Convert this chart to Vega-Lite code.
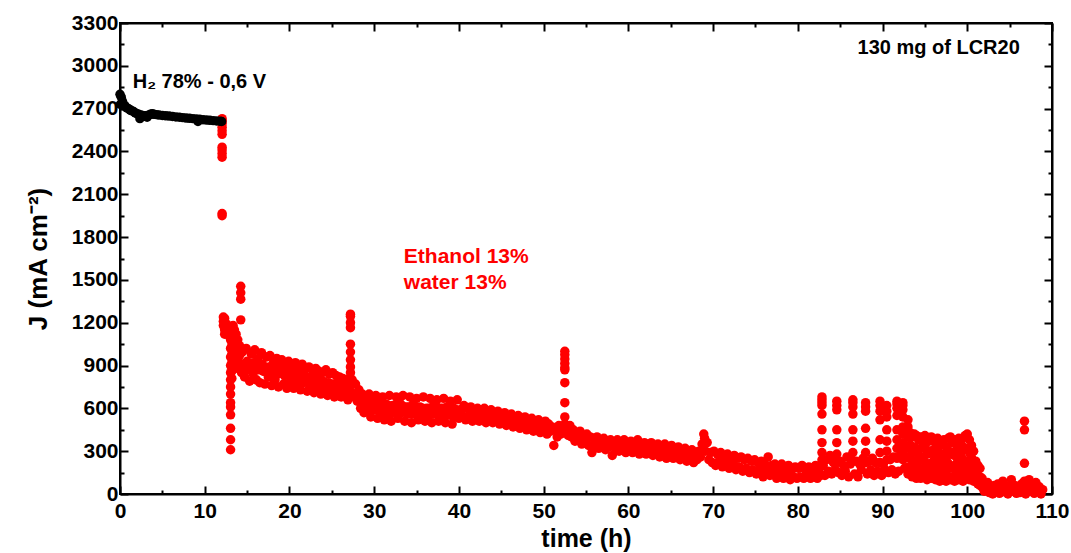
{
  "$schema": "https://vega.github.io/schema/vega-lite/v6.json",
  "autosize": {"type": "none"},
  "width": 932,
  "height": 471,
  "padding": {"left": 120, "top": 23, "right": 19, "bottom": 59},
  "background": "white",
  "config": {
    "view": {"stroke": "black", "strokeWidth": 2},
    "font": "Liberation Sans"
  },
  "datasets": {
    "h2": [
      {"t":0,"J":2800},{"t":0.05,"J":2730},{"t":0.15,"J":2780},{"t":0.3,"J":2750},{"t":0.4,"J":2720},{"t":0.6,"J":2720},{"t":0.8,"J":2705},{"t":1.0,"J":2700},{"t":1.2,"J":2690},{"t":1.4,"J":2685},{"t":1.6,"J":2680},{"t":1.8,"J":2670},{"t":2.0,"J":2665},{"t":2.2,"J":2660},{"t":2.35,"J":2630},{"t":2.5,"J":2655},{"t":2.8,"J":2650},{"t":3.0,"J":2650},{"t":3.2,"J":2640},{"t":3.4,"J":2655},{"t":3.6,"J":2660},{"t":3.8,"J":2665},{"t":4.0,"J":2660},{"t":4.3,"J":2658},{"t":4.6,"J":2655},{"t":5.0,"J":2652},{"t":5.4,"J":2650},{"t":5.8,"J":2648},{"t":6.2,"J":2645},{"t":6.6,"J":2642},{"t":7.0,"J":2640},{"t":7.4,"J":2637},{"t":7.8,"J":2634},{"t":8.2,"J":2632},{"t":8.6,"J":2630},{"t":9.0,"J":2627},{"t":9.2,"J":2610},{"t":9.4,"J":2625},{"t":9.8,"J":2622},{"t":10.2,"J":2620},{"t":10.6,"J":2618},{"t":11.0,"J":2616},{"t":11.4,"J":2614},{"t":11.8,"J":2612},{"t":12.0,"J":2610}
    ],
    "eth": [
      {"t":12.05,"J":2630},{"t":12.05,"J":2615},{"t":12.05,"J":2595},{"t":12.05,"J":2570},{"t":12.05,"J":2545},{"t":12.05,"J":2520},{"t":12.05,"J":2430},{"t":12.05,"J":2410},{"t":12.05,"J":2385},{"t":12.05,"J":2360},{"t":12.05,"J":1965},{"t":12.05,"J":1950},
      {"t":12.2,"J":1240},{"t":12.2,"J":1210},{"t":12.2,"J":1180},{"t":12.35,"J":1150},{"t":12.35,"J":1120},{"t":12.35,"J":1230},{"t":12.6,"J":1190},{"t":12.6,"J":1140},{"t":12.85,"J":1170},{"t":12.85,"J":1110},
      {"t":13.05,"J":1080},{"t":13.05,"J":1020},{"t":13.05,"J":960},{"t":13.05,"J":900},{"t":13.05,"J":850},{"t":13.05,"J":800},{"t":13.05,"J":750},{"t":13.05,"J":700},{"t":13.05,"J":640},{"t":13.05,"J":610},{"t":13.05,"J":555},{"t":13.05,"J":460},{"t":13.05,"J":380},{"t":13.05,"J":310},
      {"t":13.2,"J":1100},{"t":13.2,"J":1040},{"t":13.2,"J":980},{"t":13.2,"J":920},{"t":13.2,"J":860},{"t":13.2,"J":810},
      {"t":13.35,"J":1180},{"t":13.35,"J":1120},{"t":13.35,"J":1060},{"t":13.35,"J":1000},{"t":13.35,"J":940},
      {"t":13.5,"J":1150},{"t":13.5,"J":1090},{"t":13.5,"J":1020},{"t":13.5,"J":950},
      {"t":13.7,"J":1120},{"t":13.7,"J":1050},{"t":13.7,"J":980},{"t":13.7,"J":910},
      {"t":13.9,"J":1080},{"t":13.9,"J":1010},{"t":13.9,"J":940},{"t":13.9,"J":880},
      {"t":14.1,"J":1040},{"t":14.1,"J":970},{"t":14.1,"J":900},
      {"t":14.25,"J":1455},{"t":14.25,"J":1410},{"t":14.25,"J":1365},{"t":14.25,"J":1220},
      {"t":14.35,"J":990},{"t":14.35,"J":910},{"t":14.35,"J":850},
      {"t":14.5,"J":1000},{"t":14.7,"J":820},{"t":14.9,"J":1020},{"t":15.1,"J":880},{"t":15.3,"J":790},{"t":15.5,"J":980},{"t":15.7,"J":840},{"t":15.9,"J":1010},{"t":16.1,"J":800},{"t":16.3,"J":950},{"t":16.5,"J":780},{"t":16.7,"J":990},{"t":16.9,"J":860},{"t":17.1,"J":770},{"t":17.3,"J":960},{"t":17.5,"J":820},{"t":17.7,"J":970},{"t":17.9,"J":760},{"t":18.1,"J":920},{"t":18.3,"J":800},{"t":18.5,"J":950},{"t":18.7,"J":750},{"t":18.9,"J":900},{"t":19.1,"J":940},{"t":19.3,"J":770},{"t":19.5,"J":910},{"t":19.7,"J":740},{"t":19.9,"J":930},
      {"t":20.1,"J":790},{"t":20.3,"J":900},{"t":20.5,"J":740},{"t":20.7,"J":920},{"t":20.9,"J":770},{"t":21.1,"J":890},{"t":21.3,"J":730},{"t":21.5,"J":910},{"t":21.7,"J":780},{"t":21.9,"J":880},{"t":22.1,"J":720},{"t":22.3,"J":890},{"t":22.5,"J":750},{"t":22.7,"J":870},{"t":22.9,"J":710},{"t":23.1,"J":880},{"t":23.3,"J":740},{"t":23.5,"J":860},{"t":23.7,"J":700},{"t":23.9,"J":850},{"t":24.1,"J":730},{"t":24.3,"J":870},{"t":24.5,"J":690},{"t":24.7,"J":840},{"t":24.9,"J":720},{"t":25.1,"J":850},{"t":25.3,"J":680},{"t":25.5,"J":830},{"t":25.7,"J":710},{"t":25.9,"J":820},{"t":26.1,"J":680},{"t":26.3,"J":810},{"t":26.5,"J":690},{"t":26.7,"J":800},{"t":26.9,"J":660},{"t":27.05,"J":790},
      {"t":14.6,"J":910},{"t":14.8,"J":900},{"t":15.0,"J":930},{"t":15.2,"J":870},{"t":15.4,"J":900},{"t":15.6,"J":890},{"t":15.8,"J":920},{"t":16.0,"J":880},{"t":16.2,"J":900},{"t":16.4,"J":870},{"t":16.6,"J":890},{"t":16.8,"J":910},{"t":17.0,"J":860},{"t":17.2,"J":880},{"t":17.4,"J":870},{"t":17.6,"J":890},{"t":17.8,"J":850},{"t":18.0,"J":870},{"t":18.2,"J":860},{"t":18.4,"J":880},{"t":18.6,"J":840},{"t":18.8,"J":860},{"t":19.0,"J":850},{"t":19.2,"J":860},{"t":19.4,"J":830},{"t":19.6,"J":850},{"t":19.8,"J":840},{"t":20.0,"J":860},{"t":20.2,"J":830},{"t":20.4,"J":850},{"t":20.6,"J":820},{"t":20.8,"J":840},{"t":21.0,"J":830},{"t":21.2,"J":820},{"t":21.4,"J":840},{"t":21.6,"J":810},{"t":21.8,"J":830},{"t":22.0,"J":800},{"t":22.2,"J":820},{"t":22.4,"J":810},{"t":22.6,"J":800},{"t":22.8,"J":820},{"t":23.0,"J":790},{"t":23.2,"J":810},{"t":23.4,"J":780},{"t":23.6,"J":800},{"t":23.8,"J":770},{"t":24.0,"J":790},{"t":24.2,"J":780},{"t":24.4,"J":770},{"t":24.6,"J":780},{"t":24.8,"J":760},{"t":25.0,"J":770},{"t":25.2,"J":750},{"t":25.4,"J":770},{"t":25.6,"J":740},{"t":25.8,"J":760},{"t":26.0,"J":740},{"t":26.2,"J":750},{"t":26.4,"J":730},{"t":26.6,"J":740},{"t":26.8,"J":720},{"t":27.0,"J":730},
      {"t":27.2,"J":1260},{"t":27.2,"J":1245},{"t":27.2,"J":1200},{"t":27.2,"J":1165},{"t":27.2,"J":1050},{"t":27.2,"J":995},{"t":27.2,"J":940},{"t":27.2,"J":890},{"t":27.2,"J":850},{"t":27.2,"J":810},{"t":27.2,"J":770},{"t":27.2,"J":720},{"t":27.2,"J":680},
      {"t":27.4,"J":800},{"t":27.6,"J":700},{"t":27.8,"J":770},{"t":28.0,"J":650},{"t":28.2,"J":730},{"t":28.4,"J":600},{"t":28.6,"J":700},{"t":28.8,"J":570},{"t":29.0,"J":660},{"t":29.2,"J":590},{"t":29.4,"J":700},{"t":29.6,"J":540},{"t":29.8,"J":650},
      {"t":30.0,"J":590},{"t":30.2,"J":690},{"t":30.4,"J":530},{"t":30.6,"J":640},{"t":30.8,"J":570},{"t":31.0,"J":680},{"t":31.2,"J":520},{"t":31.4,"J":630},{"t":31.6,"J":560},{"t":31.8,"J":690},{"t":32.0,"J":510},{"t":32.2,"J":620},{"t":32.4,"J":580},{"t":32.6,"J":680},{"t":32.8,"J":530},{"t":33.0,"J":640},{"t":33.2,"J":570},{"t":33.4,"J":690},{"t":33.6,"J":510},{"t":33.8,"J":610},{"t":34.0,"J":560},{"t":34.2,"J":680},{"t":34.4,"J":500},{"t":34.6,"J":630},{"t":34.8,"J":570},{"t":35.0,"J":670},{"t":35.2,"J":520},{"t":35.4,"J":610},{"t":35.6,"J":560},{"t":35.8,"J":680},{"t":36.0,"J":510},{"t":36.2,"J":600},{"t":36.4,"J":550},{"t":36.6,"J":670},{"t":36.8,"J":500},{"t":37.0,"J":620},{"t":37.2,"J":560},{"t":37.4,"J":660},{"t":37.6,"J":510},{"t":37.8,"J":600},{"t":38.0,"J":550},{"t":38.2,"J":670},{"t":38.4,"J":500},{"t":38.6,"J":610},{"t":38.8,"J":560},{"t":39.0,"J":650},{"t":39.2,"J":490},{"t":39.4,"J":600},{"t":39.6,"J":550},{"t":39.8,"J":660},
      {"t":28.1,"J":690},{"t":28.3,"J":670},{"t":28.5,"J":650},{"t":28.7,"J":640},{"t":28.9,"J":620},{"t":29.1,"J":630},{"t":29.3,"J":640},{"t":29.5,"J":610},{"t":29.7,"J":600},{"t":29.9,"J":620},{"t":30.1,"J":610},{"t":30.3,"J":620},{"t":30.5,"J":590},{"t":30.7,"J":610},{"t":30.9,"J":620},{"t":31.1,"J":600},{"t":31.3,"J":580},{"t":31.5,"J":600},{"t":31.7,"J":620},{"t":31.9,"J":590},{"t":32.1,"J":570},{"t":32.3,"J":600},{"t":32.5,"J":620},{"t":32.7,"J":600},{"t":32.9,"J":580},{"t":33.1,"J":610},{"t":33.3,"J":620},{"t":33.5,"J":590},{"t":33.7,"J":570},{"t":33.9,"J":600},{"t":34.1,"J":610},{"t":34.3,"J":590},{"t":34.5,"J":560},{"t":34.7,"J":600},{"t":34.9,"J":610},{"t":35.1,"J":590},{"t":35.3,"J":570},{"t":35.5,"J":590},{"t":35.7,"J":600},{"t":35.9,"J":580},{"t":36.1,"J":560},{"t":36.3,"J":580},{"t":36.5,"J":600},{"t":36.7,"J":580},{"t":36.9,"J":560},{"t":37.1,"J":590},{"t":37.3,"J":600},{"t":37.5,"J":570},{"t":37.7,"J":560},{"t":37.9,"J":580},{"t":38.1,"J":600},{"t":38.3,"J":570},{"t":38.5,"J":550},{"t":38.7,"J":580},{"t":38.9,"J":590},{"t":39.1,"J":570},{"t":39.3,"J":540},{"t":39.5,"J":570},{"t":39.7,"J":590},{"t":39.9,"J":570},
      {"t":40.0,"J":530},{"t":40.2,"J":590},{"t":40.4,"J":550},{"t":40.6,"J":620},{"t":40.8,"J":520},{"t":41.0,"J":600},{"t":41.2,"J":550},{"t":41.4,"J":610},{"t":41.6,"J":510},{"t":41.8,"J":590},{"t":42.0,"J":540},{"t":42.2,"J":600},{"t":42.4,"J":510},{"t":42.6,"J":580},{"t":42.8,"J":540},{"t":43.0,"J":600},{"t":43.2,"J":500},{"t":43.4,"J":570},{"t":43.6,"J":530},{"t":43.8,"J":590},{"t":44.0,"J":500},{"t":44.2,"J":560},{"t":44.4,"J":520},{"t":44.6,"J":580},{"t":44.8,"J":490},{"t":45.0,"J":560},{"t":45.2,"J":510},{"t":45.4,"J":570},{"t":45.6,"J":480},{"t":45.8,"J":550},{"t":46.0,"J":500},{"t":46.2,"J":560},{"t":46.4,"J":470},{"t":46.6,"J":540},{"t":46.8,"J":490},{"t":47.0,"J":550},{"t":47.2,"J":460},{"t":47.4,"J":530},{"t":47.6,"J":480},{"t":47.8,"J":540},{"t":48.0,"J":450},{"t":48.2,"J":520},{"t":48.4,"J":470},{"t":48.6,"J":530},{"t":48.8,"J":440},{"t":49.0,"J":510},{"t":49.2,"J":460},{"t":49.4,"J":520},{"t":49.6,"J":430},{"t":49.8,"J":500},
      {"t":50.0,"J":450},{"t":50.2,"J":510},{"t":50.4,"J":420},{"t":50.6,"J":490},{"t":50.8,"J":440},{"t":51.0,"J":470},{"t":51.2,"J":340},{"t":51.4,"J":450},{"t":51.6,"J":400},{"t":51.8,"J":480},{"t":52.0,"J":420},{"t":52.2,"J":450},
      {"t":52.5,"J":1000},{"t":52.5,"J":975},{"t":52.5,"J":945},{"t":52.5,"J":915},{"t":52.5,"J":885},{"t":52.5,"J":870},{"t":52.5,"J":780},{"t":52.5,"J":640},{"t":52.5,"J":540},{"t":52.5,"J":490},
      {"t":52.7,"J":470},{"t":52.9,"J":410},{"t":53.1,"J":480},{"t":53.3,"J":400},{"t":53.5,"J":450},{"t":53.7,"J":370},{"t":53.9,"J":430},{"t":54.1,"J":380},{"t":54.3,"J":440},{"t":54.5,"J":350},{"t":54.7,"J":410},{"t":54.9,"J":370},{"t":55.1,"J":420},{"t":55.3,"J":340},{"t":55.5,"J":400},{"t":55.7,"J":290},{"t":55.9,"J":390},{"t":56.1,"J":340},{"t":56.3,"J":400},{"t":56.5,"J":320},{"t":56.7,"J":380},{"t":56.9,"J":340},{"t":57.1,"J":390},{"t":57.3,"J":310},{"t":57.5,"J":370},{"t":57.7,"J":330},{"t":57.9,"J":380},{"t":58.1,"J":270},{"t":58.3,"J":360},{"t":58.5,"J":320},{"t":58.7,"J":380},{"t":58.9,"J":300},{"t":59.1,"J":360},{"t":59.3,"J":320},{"t":59.5,"J":380},{"t":59.7,"J":290},{"t":59.9,"J":350},
      {"t":60.1,"J":310},{"t":60.3,"J":370},{"t":60.5,"J":290},{"t":60.7,"J":350},{"t":60.9,"J":310},{"t":61.1,"J":380},{"t":61.3,"J":280},{"t":61.5,"J":340},{"t":61.7,"J":300},{"t":61.9,"J":360},{"t":62.1,"J":280},{"t":62.3,"J":340},{"t":62.5,"J":300},{"t":62.7,"J":360},{"t":62.9,"J":270},{"t":63.1,"J":330},{"t":63.3,"J":290},{"t":63.5,"J":350},{"t":63.7,"J":260},{"t":63.9,"J":320},{"t":64.1,"J":290},{"t":64.3,"J":350},{"t":64.5,"J":250},{"t":64.7,"J":320},{"t":64.9,"J":280},{"t":65.1,"J":340},{"t":65.3,"J":250},{"t":65.5,"J":310},{"t":65.7,"J":270},{"t":65.9,"J":330},{"t":66.1,"J":240},{"t":66.3,"J":300},{"t":66.5,"J":260},{"t":66.7,"J":320},{"t":66.9,"J":230},{"t":67.1,"J":300},{"t":67.3,"J":250},{"t":67.5,"J":310},{"t":67.7,"J":220},{"t":67.9,"J":290},{"t":68.1,"J":240},{"t":68.3,"J":300},{"t":68.5,"J":260},{"t":68.7,"J":350},{"t":68.9,"J":420},{"t":69.0,"J":390},{"t":69.1,"J":300},{"t":69.3,"J":360},{"t":69.5,"J":240},{"t":69.7,"J":290},{"t":69.9,"J":220},
      {"t":70.1,"J":300},{"t":70.3,"J":200},{"t":70.5,"J":280},{"t":70.7,"J":230},{"t":70.9,"J":290},{"t":71.1,"J":190},{"t":71.3,"J":270},{"t":71.5,"J":220},{"t":71.7,"J":280},{"t":71.9,"J":180},{"t":72.1,"J":260},{"t":72.3,"J":210},{"t":72.5,"J":270},{"t":72.7,"J":170},{"t":72.9,"J":250},{"t":73.1,"J":190},{"t":73.3,"J":260},{"t":73.5,"J":160},{"t":73.7,"J":240},{"t":73.9,"J":180},{"t":74.1,"J":250},{"t":74.3,"J":150},{"t":74.5,"J":230},{"t":74.7,"J":170},{"t":74.9,"J":240},{"t":75.1,"J":140},{"t":75.3,"J":220},{"t":75.5,"J":170},{"t":75.7,"J":230},{"t":75.9,"J":120},{"t":76.1,"J":210},{"t":76.3,"J":160},{"t":76.5,"J":260},{"t":76.7,"J":130},{"t":76.9,"J":200},{"t":77.1,"J":150},{"t":77.3,"J":210},{"t":77.5,"J":110},{"t":77.7,"J":190},{"t":77.9,"J":140},{"t":78.1,"J":210},{"t":78.3,"J":110},{"t":78.5,"J":180},{"t":78.7,"J":130},{"t":78.9,"J":200},{"t":79.1,"J":100},{"t":79.3,"J":170},{"t":79.5,"J":120},{"t":79.7,"J":190},{"t":79.9,"J":110},
      {"t":80.1,"J":180},{"t":80.3,"J":120},{"t":80.5,"J":200},{"t":80.7,"J":110},{"t":80.9,"J":170},{"t":81.1,"J":130},{"t":81.3,"J":190},{"t":81.5,"J":110},{"t":81.7,"J":180},{"t":81.9,"J":140},{"t":82.1,"J":200},{"t":82.3,"J":110},{"t":82.5,"J":170},{"t":82.7,"J":130},
      {"t":82.85,"J":680},{"t":82.85,"J":660},{"t":82.85,"J":640},{"t":82.85,"J":620},{"t":82.85,"J":560},{"t":82.85,"J":450},{"t":82.85,"J":360},{"t":82.85,"J":290},{"t":82.85,"J":240},
      {"t":83.0,"J":200},{"t":83.2,"J":130},{"t":83.4,"J":240},{"t":83.6,"J":160},{"t":83.8,"J":270},{"t":84.0,"J":140},{"t":84.2,"J":220},{"t":84.4,"J":170},
      {"t":84.6,"J":650},{"t":84.6,"J":620},{"t":84.6,"J":590},{"t":84.6,"J":450},{"t":84.6,"J":360},{"t":84.6,"J":280},{"t":84.6,"J":220},
      {"t":84.8,"J":150},{"t":85.0,"J":230},{"t":85.2,"J":130},{"t":85.4,"J":200},{"t":85.6,"J":160},{"t":85.8,"J":260},{"t":86.0,"J":120},{"t":86.2,"J":210},
      {"t":86.5,"J":660},{"t":86.5,"J":640},{"t":86.5,"J":610},{"t":86.5,"J":560},{"t":86.5,"J":450},{"t":86.5,"J":370},{"t":86.5,"J":290},{"t":86.5,"J":230},
      {"t":86.7,"J":140},{"t":86.9,"J":230},{"t":87.1,"J":120},{"t":87.3,"J":210},{"t":87.5,"J":170},{"t":87.7,"J":250},
      {"t":88.0,"J":640},{"t":88.0,"J":610},{"t":88.0,"J":580},{"t":88.0,"J":460},{"t":88.0,"J":370},{"t":88.0,"J":290},{"t":88.0,"J":220},
      {"t":88.2,"J":140},{"t":88.4,"J":230},{"t":88.6,"J":170},{"t":88.8,"J":250},{"t":89.0,"J":130},{"t":89.2,"J":220},{"t":89.4,"J":160},
      {"t":89.7,"J":650},{"t":89.7,"J":620},{"t":89.7,"J":580},{"t":89.7,"J":520},{"t":89.7,"J":380},{"t":89.7,"J":290},{"t":89.7,"J":220},
      {"t":89.9,"J":130},{"t":90.1,"J":210},{"t":90.3,"J":170},
      {"t":90.5,"J":620},{"t":90.5,"J":580},{"t":90.5,"J":540},{"t":90.5,"J":450},{"t":90.5,"J":370},{"t":90.5,"J":300},{"t":90.5,"J":240},
      {"t":90.7,"J":150},{"t":90.9,"J":240},{"t":91.1,"J":170},{"t":91.3,"J":260},{"t":91.5,"J":140},
      {"t":91.7,"J":650},{"t":91.7,"J":630},{"t":91.7,"J":600},{"t":91.7,"J":550},{"t":91.7,"J":450},{"t":91.7,"J":380},{"t":91.7,"J":320},{"t":91.7,"J":250},
      {"t":91.9,"J":160},{"t":92.1,"J":270},
      {"t":92.4,"J":640},{"t":92.4,"J":620},{"t":92.4,"J":590},{"t":92.4,"J":540},{"t":92.4,"J":470},{"t":92.4,"J":420},{"t":92.4,"J":360},{"t":92.4,"J":300},{"t":92.4,"J":240},
      {"t":92.6,"J":180},{"t":92.8,"J":320},
      {"t":93.0,"J":520},{"t":93.0,"J":470},{"t":93.0,"J":400},{"t":93.0,"J":330},{"t":93.0,"J":260},{"t":93.0,"J":190},{"t":93.0,"J":140},
      {"t":93.25,"J":430},{"t":93.25,"J":345},{"t":93.25,"J":250},{"t":93.25,"J":140},
      {"t":93.5,"J":400},{"t":93.5,"J":290},{"t":93.5,"J":205},{"t":93.5,"J":120},
      {"t":93.75,"J":420},{"t":93.75,"J":330},{"t":93.75,"J":230},{"t":93.75,"J":160},
      {"t":94.0,"J":410},{"t":94.0,"J":305},{"t":94.0,"J":215},{"t":94.0,"J":110},
      {"t":94.25,"J":380},{"t":94.25,"J":270},{"t":94.25,"J":185},{"t":94.25,"J":150},
      {"t":94.5,"J":400},{"t":94.5,"J":320},{"t":94.5,"J":240},{"t":94.5,"J":110},
      {"t":94.75,"J":370},{"t":94.75,"J":260},{"t":94.75,"J":170},{"t":94.75,"J":130},
      {"t":95.0,"J":410},{"t":95.0,"J":335},{"t":95.0,"J":225},{"t":95.0,"J":120},
      {"t":95.25,"J":390},{"t":95.25,"J":280},{"t":95.25,"J":195},{"t":95.25,"J":100},
      {"t":95.5,"J":370},{"t":95.5,"J":300},{"t":95.5,"J":210},{"t":95.5,"J":140},
      {"t":95.75,"J":400},{"t":95.75,"J":285},{"t":95.75,"J":175},{"t":95.75,"J":110},
      {"t":96.0,"J":380},{"t":96.0,"J":310},{"t":96.0,"J":230},{"t":96.0,"J":130},
      {"t":96.25,"J":360},{"t":96.25,"J":255},{"t":96.25,"J":165},{"t":96.25,"J":100},
      {"t":96.5,"J":390},{"t":96.5,"J":300},{"t":96.5,"J":210},{"t":96.5,"J":120},
      {"t":96.75,"J":340},{"t":96.75,"J":250},{"t":96.75,"J":160},{"t":96.75,"J":90},
      {"t":97.0,"J":370},{"t":97.0,"J":280},{"t":97.0,"J":195},{"t":97.0,"J":110},
      {"t":97.25,"J":380},{"t":97.25,"J":265},{"t":97.25,"J":175},{"t":97.25,"J":100},
      {"t":97.5,"J":330},{"t":97.5,"J":240},{"t":97.5,"J":150},{"t":97.5,"J":90},
      {"t":97.75,"J":390},{"t":97.75,"J":305},{"t":97.75,"J":215},{"t":97.75,"J":110},
      {"t":98.0,"J":400},{"t":98.0,"J":290},{"t":98.0,"J":190},{"t":98.0,"J":100},
      {"t":98.25,"J":360},{"t":98.25,"J":275},{"t":98.25,"J":180},{"t":98.25,"J":120},
      {"t":98.5,"J":380},{"t":98.5,"J":295},{"t":98.5,"J":200},{"t":98.5,"J":90},
      {"t":98.75,"J":340},{"t":98.75,"J":255},{"t":98.75,"J":165},{"t":98.75,"J":110},
      {"t":99.0,"J":390},{"t":99.0,"J":285},{"t":99.0,"J":185},{"t":99.0,"J":100},
      {"t":99.25,"J":370},{"t":99.25,"J":290},{"t":99.25,"J":205},{"t":99.25,"J":120},
      {"t":99.5,"J":330},{"t":99.5,"J":245},{"t":99.5,"J":160},{"t":99.5,"J":90},
      {"t":99.75,"J":410},{"t":99.75,"J":320},{"t":99.75,"J":225},{"t":99.75,"J":110},
      {"t":100.0,"J":420},{"t":100.0,"J":310},{"t":100.0,"J":210},{"t":100.0,"J":130},
      {"t":100.25,"J":380},{"t":100.25,"J":290},{"t":100.25,"J":195},{"t":100.25,"J":100},
      {"t":100.5,"J":340},{"t":100.5,"J":255},{"t":100.5,"J":170},{"t":100.5,"J":120},
      {"t":100.75,"J":300},{"t":100.75,"J":220},{"t":100.75,"J":140},{"t":100.75,"J":90},
      {"t":101.0,"J":230},{"t":101.0,"J":160},{"t":101.0,"J":100},
      {"t":101.25,"J":200},{"t":101.25,"J":130},{"t":101.25,"J":70},
      {"t":101.5,"J":180},{"t":101.5,"J":120},{"t":101.5,"J":60},
      {"t":101.75,"J":110},{"t":101.75,"J":50},{"t":102.0,"J":70},{"t":102.0,"J":20},
      {"t":102.2,"J":30},{"t":102.4,"J":80},{"t":102.6,"J":10},{"t":102.8,"J":50},{"t":103.0,"J":0},{"t":103.2,"J":60},{"t":103.4,"J":20},{"t":103.6,"J":70},{"t":103.8,"J":5},{"t":104.0,"J":40},{"t":104.2,"J":90},{"t":104.4,"J":15},{"t":104.6,"J":55},{"t":104.8,"J":0},{"t":105.0,"J":45},{"t":105.2,"J":100},{"t":105.4,"J":20},{"t":105.6,"J":60},{"t":105.8,"J":5},{"t":106.0,"J":40},{"t":106.2,"J":10},{"t":106.4,"J":70},{"t":106.6,"J":20},
      {"t":106.75,"J":510},{"t":106.75,"J":450},{"t":106.75,"J":215},{"t":106.75,"J":90},
      {"t":106.9,"J":0},{"t":107.1,"J":50},{"t":107.3,"J":100},{"t":107.5,"J":20},{"t":107.7,"J":60},{"t":107.9,"J":5},{"t":108.1,"J":80},{"t":108.3,"J":20},{"t":108.5,"J":50},{"t":108.7,"J":0},{"t":108.9,"J":30}
    ],
    "note_h2": [{"t":1.5,"J":2887,"label":"H₂ 78% - 0,6 V"}],
    "note_top": [{"t":106.2,"J":3125,"label":"130 mg of LCR20"}],
    "eth_notes": [
      {"t":33.5,"J":1660,"label":"Ethanol 13%"},
      {"t":33.5,"J":1478,"label":"water 13%"}
    ]
  },
  "layer": [
    {
      "data": {"name": "eth"},
      "mark": {"type": "circle", "size": 90, "opacity": 1, "color": "#ff0000"},
      "encoding": {
        "x": {"field": "t", "type": "quantitative", "scale": {"domain": [0, 110], "nice": false, "zero": false},
          "axis": {"orient": "bottom", "title": "time (h)", "values": [0,5,10,15,20,25,30,35,40,45,50,55,60,65,70,75,80,85,90,95,100,105,110],
            "labelExpr": "datum.value % 10 === 0 ? datum.label : ''",
            "tickSize": {"condition": {"test": "datum.value % 10 === 0", "value": -8}, "value": -4},
            "tickColor": "black", "tickWidth": 2, "domainColor": "black", "domainWidth": 2,
            "labelFont": "Liberation Sans", "labelFontWeight": "bold", "labelFontSize": 21, "labelColor": "black", "labelPadding": 14, "labelFlush": false,
            "titleFont": "Liberation Sans", "titleFontWeight": "bold", "titleFontSize": 25, "titleColor": "black", "titlePadding": 5, "grid": false}},
        "y": {"field": "J", "type": "quantitative", "scale": {"domain": [0, 3300], "nice": false},
          "axis": {"orient": "left", "title": "J (mA cm⁻²)", "values": [0,150,300,450,600,750,900,1050,1200,1350,1500,1650,1800,1950,2100,2250,2400,2550,2700,2850,3000,3150,3300],
            "labelExpr": "datum.value % 300 === 0 ? datum.label : ''",
            "format": "d",
            "tickSize": {"condition": {"test": "datum.value % 300 === 0", "value": -8}, "value": -4},
            "tickColor": "black", "tickWidth": 2, "domainColor": "black", "domainWidth": 2,
            "labelFont": "Liberation Sans", "labelFontWeight": "bold", "labelFontSize": 21, "labelColor": "black", "labelPadding": 10, "labelFlush": false,
            "titleFont": "Liberation Sans", "titleFontWeight": "bold", "titleFontSize": 26, "titleColor": "black", "titlePadding": 20, "grid": false}}
      }
    },
    {
      "data": {"name": "h2"},
      "mark": {"type": "circle", "size": 90, "opacity": 1, "color": "#000000"},
      "encoding": {
        "x": {"field": "t", "type": "quantitative",
          "axis": {"orient": "top", "title": null, "values": [0,5,10,15,20,25,30,35,40,45,50,55,60,65,70,75,80,85,90,95,100,105,110],
            "labels": false,
            "tickSize": {"condition": {"test": "datum.value % 10 === 0", "value": -8}, "value": -4},
            "tickColor": "black", "tickWidth": 2, "domainColor": "black", "domainWidth": 2, "grid": false}},
        "y": {"field": "J", "type": "quantitative",
          "axis": {"orient": "right", "title": null, "values": [0,150,300,450,600,750,900,1050,1200,1350,1500,1650,1800,1950,2100,2250,2400,2550,2700,2850,3000,3150,3300],
            "labels": false,
            "tickSize": {"condition": {"test": "datum.value % 300 === 0", "value": -8}, "value": -4},
            "tickColor": "black", "tickWidth": 2, "domainColor": "black", "domainWidth": 2, "grid": false}}
      }
    },
    {
      "data": {"name": "note_h2"},
      "mark": {"type": "text", "font": "Liberation Sans", "fontWeight": "bold", "fontSize": 20, "color": "black", "baseline": "middle", "align": "left"},
      "encoding": {
        "x": {"field": "t", "type": "quantitative", "axis": null},
        "y": {"field": "J", "type": "quantitative", "axis": null},
        "text": {"field": "label"}
      }
    },
    {
      "data": {"name": "note_top"},
      "mark": {"type": "text", "font": "Liberation Sans", "fontWeight": "bold", "fontSize": 20, "color": "black", "baseline": "middle", "align": "right"},
      "encoding": {
        "x": {"field": "t", "type": "quantitative", "axis": null},
        "y": {"field": "J", "type": "quantitative", "axis": null},
        "text": {"field": "label"}
      }
    },
    {
      "data": {"name": "eth_notes"},
      "mark": {"type": "text", "font": "Liberation Sans", "fontWeight": "bold", "fontSize": 21, "color": "#ff0000", "baseline": "middle", "align": "left"},
      "encoding": {
        "x": {"field": "t", "type": "quantitative", "axis": null},
        "y": {"field": "J", "type": "quantitative", "axis": null},
        "text": {"field": "label"}
      }
    }
  ],
  "resolve": {"axis": {"x": "independent", "y": "independent"}}
}
